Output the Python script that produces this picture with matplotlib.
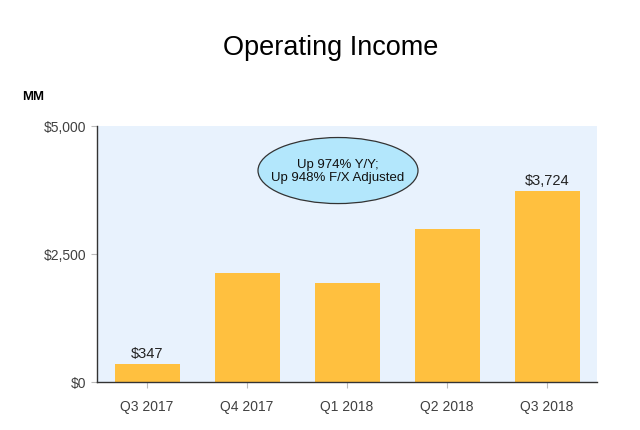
import matplotlib.pyplot as plt
from matplotlib.patches import Ellipse

plt.rcParams["font.family"] = ["Liberation Sans", "DejaVu Sans"]

quarters = ["Q3 2017", "Q4 2017", "Q1 2018", "Q2 2018", "Q3 2018"]
income = [347, 2127, 1927, 2983, 3724]
labelled = {0: "$347", 4: "$3,724"}
yticks = [0, 2500, 5000]
ytick_labels = ["$0", "$2,500", "$5,000"]

fig = plt.figure(figsize=(6.4, 4.31), dpi=100)
ax = fig.add_axes([97 / 640, 1 - 383 / 431, 500 / 640, 256 / 431])
ax.set_facecolor("#E8F2FD")

x = range(len(quarters))
ax.bar(x, income, width=0.65, color="#FFC03F", zorder=2)
for i, txt in labelled.items():
    ax.text(i, income[i] + 90, txt, ha="center", va="bottom",
            fontsize=10.5, color="#222222")

ax.set_xlim(-0.5, len(quarters) - 0.5)
ax.set_ylim(0, 5000)
ax.set_xticks(list(x))
ax.set_xticklabels(quarters)
ax.set_yticks(yticks)
ax.set_yticklabels(ytick_labels)
ax.tick_params(axis="both", colors="#BBBBBB", labelcolor="#404040",
               labelsize=10, length=4, width=0.8)
ax.tick_params(axis="x", pad=8)
for s in ["top", "right"]:
    ax.spines[s].set_visible(False)
for s in ["left", "bottom"]:
    ax.spines[s].set_color("#333333")
    ax.spines[s].set_linewidth(1.0)

# callout bubble
ell = Ellipse((1.91, 4130), width=1.6, height=1290, facecolor="#B3E7FC",
              edgecolor="#333333", linewidth=0.9, zorder=3)
ax.add_patch(ell)
ax.text(1.91, 4130, "Up 974% Y/Y;\nUp 948% F/X Adjusted", ha="center",
        va="center", fontsize=9.5, color="#111111", linespacing=1.2, zorder=4)

fig.text(331 / 640, 1 - 48 / 431, "Operating Income", ha="center",
         va="center", fontsize=19.5, color="black")
fig.text(22 / 640, 1 - 97 / 431, "MM", ha="left", va="center",
         fontsize=9.5, fontweight="bold", color="black")

fig.savefig("out.png", dpi=100)
